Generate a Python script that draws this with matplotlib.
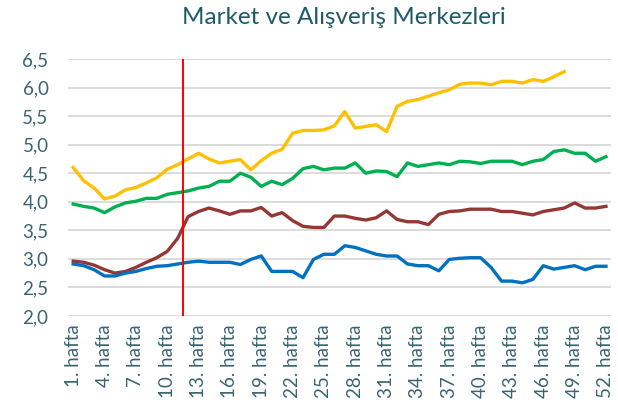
import matplotlib
matplotlib.use("Agg")
import matplotlib.pyplot as plt
from matplotlib.ticker import FuncFormatter, MultipleLocator

plt.rcParams['font.family'] = ['Lato', 'DejaVu Sans']

weeks = list(range(1, 53))

yellow = [4.60, 4.37, 4.24, 4.05, 4.10, 4.21, 4.25, 4.33, 4.42, 4.57,
          4.65, 4.75, 4.85, 4.75, 4.68, 4.71, 4.74, 4.56, 4.72, 4.85,
          4.92, 5.20, 5.25, 5.25, 5.26, 5.33, 5.58, 5.29, 5.32, 5.35,
          5.23, 5.67, 5.76, 5.79, 5.85, 5.91, 5.96, 6.06, 6.08, 6.08,
          6.05, 6.11, 6.11, 6.08, 6.14, 6.11, 6.19, 6.28]
green = [3.96, 3.92, 3.89, 3.81, 3.91, 3.98, 4.01, 4.06, 4.06, 4.13,
         4.16, 4.19, 4.24, 4.27, 4.36, 4.36, 4.50, 4.43, 4.27, 4.36,
         4.30, 4.41, 4.58, 4.62, 4.56, 4.59, 4.59, 4.68, 4.50, 4.54,
         4.53, 4.44, 4.68, 4.62, 4.65, 4.68, 4.65, 4.71, 4.70, 4.67,
         4.71, 4.71, 4.71, 4.65, 4.71, 4.74, 4.88, 4.91, 4.85, 4.85,
         4.71, 4.79]
darkred = [2.96, 2.94, 2.89, 2.81, 2.75, 2.78, 2.85, 2.94, 3.02, 3.13,
           3.36, 3.74, 3.83, 3.89, 3.84, 3.78, 3.84, 3.84, 3.90, 3.75,
           3.81, 3.67, 3.57, 3.55, 3.55, 3.75, 3.75, 3.71, 3.68, 3.72,
           3.84, 3.69, 3.65, 3.65, 3.60, 3.78, 3.83, 3.84, 3.87, 3.87,
           3.87, 3.83, 3.83, 3.80, 3.77, 3.83, 3.86, 3.89, 3.98, 3.89,
           3.89, 3.92]
blue = [2.91, 2.88, 2.81, 2.70, 2.70, 2.75, 2.78, 2.83, 2.87, 2.88,
        2.91, 2.94, 2.96, 2.94, 2.94, 2.94, 2.90, 2.99, 3.05, 2.78,
        2.78, 2.78, 2.67, 2.99, 3.08, 3.08, 3.23, 3.20, 3.14, 3.08,
        3.05, 3.05, 2.91, 2.88, 2.88, 2.79, 2.99, 3.01, 3.02, 3.02,
        2.85, 2.61, 2.61, 2.58, 2.64, 2.88, 2.82, 2.85, 2.88, 2.81,
        2.87, 2.87]

tick_weeks = list(range(1, 53, 3))
tick_labels = [f"{w}. hafta" for w in tick_weeks]
marker_week = 11.5

txt = '#3A6470'

fig = plt.figure(figsize=(6.18, 4.19), dpi=100)
ax = fig.add_axes([0.110, 0.246, 0.879, 0.613])

ax.plot(weeks[:len(yellow)], yellow, color='#FFC000', lw=2.4, solid_joinstyle='round')
ax.plot(weeks, green, color='#00B050', lw=2.4, solid_joinstyle='round')
ax.plot(weeks, darkred, color='#953735', lw=2.4, solid_joinstyle='round')
ax.plot(weeks, blue, color='#0070C0', lw=2.4, solid_joinstyle='round')
ax.axvline(marker_week, color='#FF0000', lw=1.4)

ax.set_xlim(0.5, 52.5)
ax.set_ylim(2.0, 6.5)
ax.yaxis.set_major_locator(MultipleLocator(0.5))
ax.yaxis.set_major_formatter(FuncFormatter(lambda v, p: f"{v:.1f}".replace('.', ',')))
ax.set_xticks(tick_weeks)
ax.set_xticklabels(tick_labels, rotation=90)
ax.grid(axis='y', color='#D9D9D9', lw=1.3)
ax.set_axisbelow(True)
for s in ax.spines.values():
    s.set_visible(False)
ax.tick_params(axis='both', length=0, labelsize=13.5, colors=txt)
ax.tick_params(axis='y', pad=14)
ax.tick_params(axis='x', pad=6)

fig.text(0.557, 0.958, "Market ve Alışveriş Merkezleri", ha='center', va='center',
         fontsize=17.5, color='#1F5A68')

fig.savefig('out.png', dpi=100)
